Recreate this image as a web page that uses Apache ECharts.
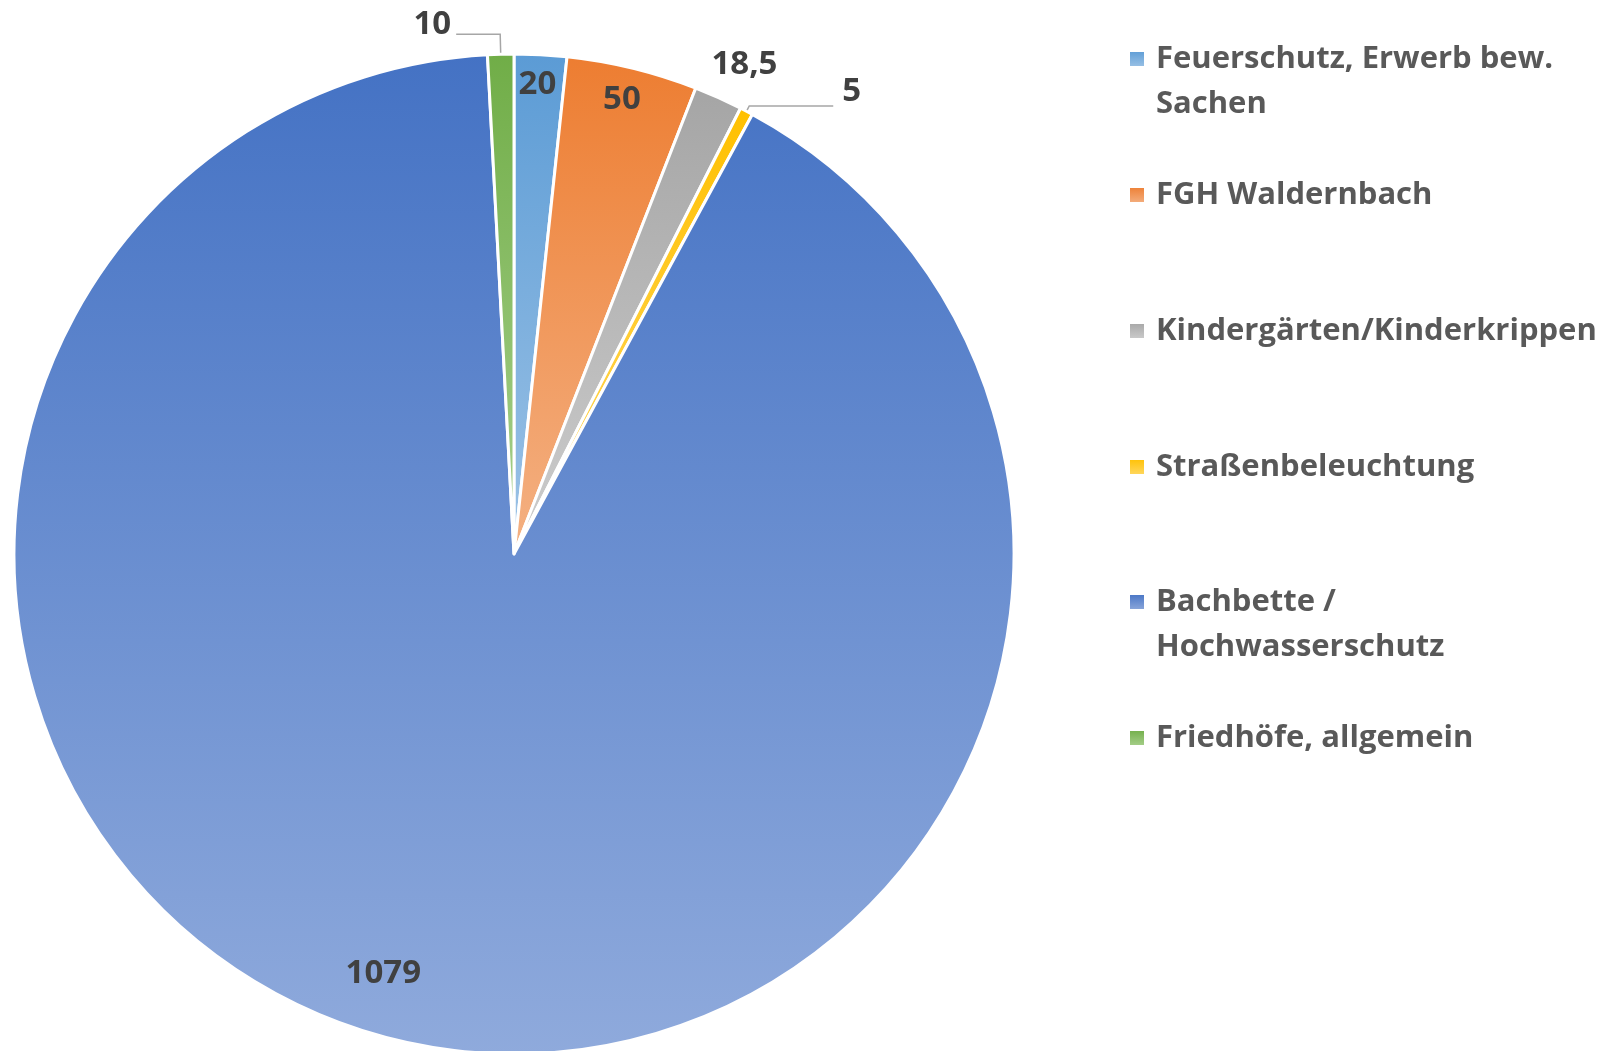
<!DOCTYPE html>
<html>
<head>
<meta charset="utf-8">
<script src="https://cdn.jsdelivr.net/npm/echarts@6/dist/echarts.min.js"></script>
<style>
  html, body { margin: 0; padding: 0; background: #fff; }
  #main { width: 1603px; height: 1051px; }
</style>
</head>
<body>
<div id="main"></div>
<script>
// Daten
var categories = ['Feuerschutz, Erwerb bew. Sachen', 'FGH Waldernbach', 'Kindergärten/Kinderkrippen', 'Straßenbeleuchtung', 'Bachbette / Hochwasserschutz', 'Friedhöfe, allgemein']
var values = [20, 50, 18.5, 5, 1079, 10]

// Farben (oben dunkel, unten hell)
var topColors = ['#5B9BD5', '#ED7D31', '#A5A5A5', '#FFC000', '#4472C4', '#70AD47']
var bottomColors = ['#9DC3E6', '#F4B183', '#CDCDCD', '#FFD966', '#8FAADC', '#A9D18E']

// Legendentexte mit Umbruch (leere erste Zeile, damit die erste Textzeile neben dem Symbol steht)
var legendText = {
  'Feuerschutz, Erwerb bew. Sachen': '\nFeuerschutz, Erwerb bew.\nSachen',
  'Bachbette / Hochwasserschutz': '\nBachbette /\nHochwasserschutz'
}

// Label-Positionen je Segment
var labelCfg = [
  { position: 'inside', offset: [10, -217] },
  { position: 'inside', offset: [48, -209] },
  { position: 'inside', offset: [127, -259] },
  { position: 'outside', offset: [4, -14] },
  { position: 'inside', offset: [-75, 173] },
  { position: 'outside', offset: [0, -10] }
]
var lineCfg = [
  { show: false },
  { show: false },
  { show: false },
  { show: true, length: 6, length2: 84 },
  { show: false },
  { show: true, length: 20, length2: 44 }
]

var legendY = [59, 195, 331, 467, 602, 738]
var lineH = 45

function grad(i) {
  return new echarts.graphic.LinearGradient(0, 0, 0, 1, [
    { offset: 0, color: topColors[i] },
    { offset: 1, color: bottomColors[i] }
  ])
}

var data = categories.map(function (name, i) {
  return {
    name: name,
    value: values[i],
    itemStyle: { color: grad(i) },
    label: labelCfg[i],
    labelLine: lineCfg[i]
  }
})

var legends = categories.map(function (name, i) {
  var twoLines = !!legendText[name]
  return {
    show: true,
    orient: 'vertical',
    left: 1128,
    top: legendY[i] - (twoLines ? lineH * 1.5 : lineH / 2),
    padding: 0,
    itemWidth: 16,
    itemHeight: 16,
    icon: 'rect',
    selectedMode: false,
    data: [name],
    formatter: function (n) { return legendText[n] || n },
    textStyle: {
      fontFamily: 'Open Sans',
      fontWeight: 'bold',
      fontSize: 31,
      color: '#595959',
      lineHeight: lineH,
      padding: [0, 0, 0, 6]
    }
  }
})

var myChart = echarts.init(document.getElementById('main'))
myChart.setOption({
  backgroundColor: '#fff',
  animation: false,
  legend: legends,
  series: [
    {
      type: 'pie',
      center: [514, 554],
      radius: 500,
      startAngle: 90,
      clockwise: true,
      avoidLabelOverlap: false,
      itemStyle: { borderColor: '#fff', borderWidth: 3 },
      label: {
        show: true,
        fontFamily: 'Open Sans',
        fontWeight: 'bold',
        fontSize: 33,
        color: '#404040',
        formatter: function (p) { return String(p.value).replace('.', ',') }
      },
      labelLine: { lineStyle: { color: '#A6A6A6', width: 1.5 } },
      emphasis: { disabled: true },
      data: data
    }
  ]
})
</script>
</body>
</html>
